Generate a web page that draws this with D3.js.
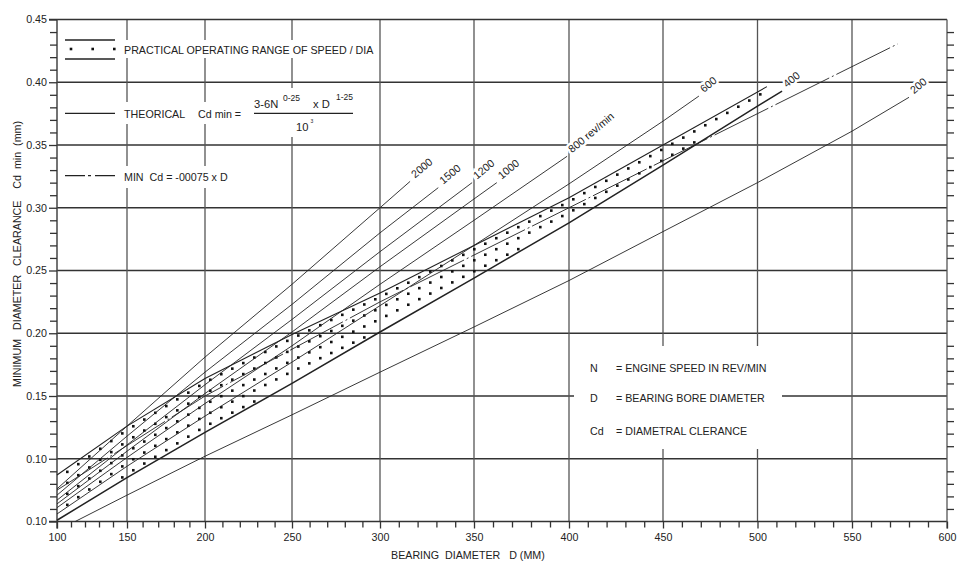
<!DOCTYPE html>
<html>
<head>
<meta charset="utf-8">
<script src="https://cdn.jsdelivr.net/npm/d3@7"></script>
<style>
  body { margin: 0; background: #fff; }
  text { font-family: "Liberation Sans", Arial, sans-serif; fill: #222; white-space: pre; }
</style>
</head>
<body>
<svg id="chart" width="968" height="563"></svg>
<script>
// axis values
const xTickValues = [100, 150, 200, 250, 300, 350, 400, 450, 500, 550, 600];
const yTickValues = [0.05, 0.10, 0.15, 0.20, 0.25, 0.30, 0.35, 0.40, 0.45];
const yTickLabels = ["0.10", "0.10", "0.15", "0.20", "0.25", "0.30", "0.35", "0.40", "0.45"];

// theoretical lines, [bearing dia D, Cd min]
const rev2000 = [[100, 0.076], [150, 0.126], [200, 0.181], [250, 0.239], [300, 0.300], [316, 0.321]];
const rev1500 = [[100, 0.071], [150, 0.118], [200, 0.169], [250, 0.223], [300, 0.280], [331, 0.316]];
const rev1200 = [[100, 0.067], [150, 0.111], [200, 0.159], [250, 0.211], [300, 0.265], [349, 0.320]];
const rev1000 = [[100, 0.064], [150, 0.106], [200, 0.152], [250, 0.201], [300, 0.253], [350, 0.307], [362, 0.320]];
const rev800 = [[100, 0.061], [150, 0.101], [200, 0.144], [250, 0.190], [300, 0.239], [350, 0.290], [399, 0.341]];
const rev600 = [[100, 0.056], [150, 0.094], [200, 0.134], [250, 0.177], [300, 0.222], [350, 0.270], [400, 0.319], [450, 0.369], [469, 0.389]];
const rev400 = [[100, 0.051], [150, 0.085], [200, 0.121], [250, 0.160], [300, 0.201], [350, 0.244], [400, 0.288], [450, 0.334], [500, 0.381], [513, 0.393]];
const rev200 = [[113, 0.050], [150, 0.071], [200, 0.102], [250, 0.135], [300, 0.169], [350, 0.205], [400, 0.242], [450, 0.281], [500, 0.320], [550, 0.361], [580, 0.388]];
const speedLabels = ["2000", "1500", "1200", "1000", "800 rev/min", "600", "400", "200"];

// practical range upper edge (lower edge follows the 400 line) and min line
const bandUpper = [[100, 0.087], [150, 0.126], [200, 0.164], [250, 0.199], [300, 0.232], [350, 0.270], [400, 0.308], [450, 0.350], [505, 0.3965]];
const minLine = [[100, 0.075], [200, 0.150], [300, 0.225], [400, 0.300], [500, 0.375], [574, 0.4305]];

const svg = d3.select("#chart");

// the scan is not quite linear in x, so the scale is piecewise
const x = d3.scaleLinear().domain(xTickValues)
  .range([57, 127, 205, 292, 380, 474, 569, 663, 757.5, 852, 947]);
const y = d3.scaleLinear().domain([0.05, 0.45]).range([521.5, 19.5]);

const line = d3.line().x(d => x(d[0])).y(d => y(d[1]));

// grid
const grid = svg.append("g");
grid.selectAll(".hgrid")
  .data(yTickValues.slice(1, -1))
  .enter().append("line")
  .attr("x1", x(100)).attr("x2", x(600))
  .attr("y1", d => y(d)).attr("y2", d => y(d))
  .attr("stroke", "#333").attr("stroke-width", 1.6);
grid.selectAll(".vgrid")
  .data(xTickValues.slice(1, -1))
  .enter().append("line")
  .attr("x1", d => x(d)).attr("x2", d => x(d))
  .attr("y1", y(0.45)).attr("y2", y(0.05))
  .attr("stroke", "#555").attr("stroke-width", 1.3);

// frame
grid.append("line").attr("x1", x(100) - 8).attr("x2", x(600)).attr("y1", y(0.45)).attr("y2", y(0.45))
  .attr("stroke", "#333").attr("stroke-width", 1.6);
grid.append("line").attr("x1", x(100) - 8).attr("x2", x(600)).attr("y1", y(0.05)).attr("y2", y(0.05))
  .attr("stroke", "#333").attr("stroke-width", 1.6);
grid.append("line").attr("x1", x(100)).attr("x2", x(100)).attr("y1", y(0.45)).attr("y2", y(0.05) + 7)
  .attr("stroke", "#444").attr("stroke-width", 1.5);
grid.append("line").attr("x1", x(600)).attr("x2", x(600)).attr("y1", y(0.45)).attr("y2", y(0.05) + 7)
  .attr("stroke", "#555").attr("stroke-width", 1.3);

// white boxes where the legends cut the grid
const blanks = [
  [120, 40, 257, 18], [120, 102, 126, 22], [250, 88, 108, 49],
  [120, 166, 113, 22], [574, 346, 208, 103]
];
svg.selectAll(".blank").data(blanks).enter().append("rect")
  .attr("x", d => d[0]).attr("y", d => d[1]).attr("width", d => d[2]).attr("height", d => d[3])
  .attr("fill", "#fff");

// axes
const minorX = d3.range(110, 600, 10).filter(v => v % 50 !== 0);
const minorY = d3.range(0.06, 0.45, 0.01).filter(v => Math.round(v * 100) % 5 !== 0);

const xAxis = svg.append("g").attr("transform", `translate(0,${y(0.05)})`)
  .call(d3.axisBottom(x).tickValues(xTickValues).tickSize(7).tickPadding(5).tickFormat(d3.format("d")));
svg.append("g").attr("transform", `translate(0,${y(0.05)})`)
  .call(d3.axisBottom(x).tickValues(minorX).tickSize(6).tickFormat(""));
const yAxis = svg.append("g").attr("transform", `translate(${x(100)},0)`)
  .call(d3.axisLeft(y).tickValues(yTickValues).tickSize(8).tickPadding(2).tickFormat((d, i) => yTickLabels[i]));
svg.append("g").attr("transform", `translate(${x(100)},0)`)
  .call(d3.axisLeft(y).tickValues(minorY).tickSize(7).tickFormat(""));
svg.append("g").attr("transform", `translate(${x(600)},0)`)
  .call(d3.axisRight(y).tickValues(minorY).tickSize(7).tickFormat(""));

svg.selectAll(".domain").remove();
svg.selectAll(".tick line").attr("stroke", "#333").attr("stroke-width", 1.3);
svg.selectAll(".tick text").attr("font-size", 10.7).attr("fill", "#222");

// dotted practical band
const upperAt = d3.scaleLinear().domain(bandUpper.map(d => d[0])).range(bandUpper.map(d => d[1]));
const lowerAt = d3.scaleLinear().domain(rev400.map(d => d[0])).range(rev400.map(d => d[1]));
const dots = [];
for (let px = 67.3; px <= x(505); px += 11) {
  const D = x.invert(px);
  const yu = y(upperAt(D)), yl = y(lowerAt(D));
  for (let py = yu + 4; py < yl - 3; py += 11) dots.push([px, py]);
}
svg.append("g").selectAll("rect")
  .data(dots)
  .enter().append("rect")
  .attr("x", d => d[0] - 1.3).attr("y", d => d[1] - 1.3)
  .attr("width", 2.6).attr("height", 2.6)
  .attr("fill", "#111");

// theoretical lines
const revLines = [rev2000, rev1500, rev1200, rev1000, rev800, rev600, rev400, rev200];
svg.append("g").selectAll("path")
  .data(revLines)
  .enter().append("path")
  .attr("d", line)
  .attr("fill", "none")
  .attr("stroke", "#222")
  .attr("stroke-width", (d, i) => i === 6 ? 1.5 : 0.9);

svg.append("path").datum(bandUpper).attr("d", line)
  .attr("fill", "none").attr("stroke", "#222").attr("stroke-width", 1.1);
svg.append("path").datum(minLine).attr("d", line)
  .attr("fill", "none").attr("stroke", "#222").attr("stroke-width", 0.9)
  .attr("stroke-dasharray", "60,3,2,3");

// speed labels at the end of each line
svg.append("g").selectAll("text")
  .data(revLines)
  .enter().append("text")
  .attr("transform", d => {
    const e = d[d.length - 1];
    return `translate(${x(e[0]) + 5},${y(e[1]) - 3}) rotate(-40)`;
  })
  .attr("font-size", 10.7)
  .attr("stroke", "#fff").attr("stroke-width", 5).attr("paint-order", "stroke")
  .text((d, i) => speedLabels[i]);

// top-left legend
const lg = svg.append("g");
lg.append("line").attr("x1", 65).attr("x2", 115).attr("y1", 40).attr("y2", 40).attr("stroke", "#222").attr("stroke-width", 1.3);
lg.append("line").attr("x1", 65).attr("x2", 115).attr("y1", 59).attr("y2", 59).attr("stroke", "#222").attr("stroke-width", 1.3);
lg.selectAll(".ldot").data([71, 92.7, 114.3]).enter().append("rect")
  .attr("x", d => d - 1.3).attr("y", 47.7).attr("width", 2.6).attr("height", 2.6).attr("fill", "#111");
lg.append("text").attr("x", 124).attr("y", 53.5).attr("font-size", 10.7)
  .text("PRACTICAL OPERATING RANGE OF SPEED / DIA");

lg.append("line").attr("x1", 65).attr("x2", 115).attr("y1", 113.3).attr("y2", 113.3).attr("stroke", "#222").attr("stroke-width", 1.2);
lg.append("text").attr("x", 124).attr("y", 117.5).attr("font-size", 10.7).text("THEORICAL");
lg.append("text").attr("x", 198).attr("y", 117.5).attr("font-size", 10.7).text("Cd min =");
lg.append("text").attr("x", 254).attr("y", 108).attr("font-size", 11.2).text("3-6N");
lg.append("text").attr("x", 283).attr("y", 101).attr("font-size", 8.5).text("0-25");
lg.append("text").attr("x", 313).attr("y", 108).attr("font-size", 11.2).text("x D");
lg.append("text").attr("x", 336).attr("y", 100).attr("font-size", 8.5).text("1-25");
lg.append("line").attr("x1", 254).attr("x2", 353).attr("y1", 113.3).attr("y2", 113.3).attr("stroke", "#222").attr("stroke-width", 1.2);
lg.append("text").attr("x", 296).attr("y", 130.5).attr("font-size", 11.2).text("10");
lg.append("text").attr("x", 310.5).attr("y", 123).attr("font-size", 5).text("3");

lg.append("line").attr("x1", 65).attr("x2", 115).attr("y1", 175.7).attr("y2", 175.7)
  .attr("stroke", "#222").attr("stroke-width", 1.2).attr("stroke-dasharray", "20,3,3,4,20");
lg.append("text").attr("x", 124).attr("y", 181).attr("font-size", 10.7).text("MIN  Cd = -00075 x D");

// symbol key, lower right
const keyRows = [["N", "= ENGINE SPEED IN REV/MIN", 371.5], ["D", "= BEARING BORE DIAMETER", 401.5], ["Cd", "= DIAMETRAL CLERANCE", 435]];
const key = svg.append("g").selectAll("g").data(keyRows).enter().append("g");
key.append("text").attr("x", 590).attr("y", d => d[2]).attr("font-size", 10.7).text(d => d[0]);
key.append("text").attr("x", 616).attr("y", d => d[2]).attr("font-size", 10.7).text(d => d[1]);

// axis titles
svg.append("text").attr("x", 391).attr("y", 558.5).attr("font-size", 10.7)
  .text("BEARING  DIAMETER   D (MM)");
svg.append("text").attr("transform", "translate(21,387) rotate(-90)").attr("font-size", 10.7)
  .text("MINIMUM   DIAMETER   CLEARANCE    Cd  min  (mm)");
</script>
</body>
</html>
